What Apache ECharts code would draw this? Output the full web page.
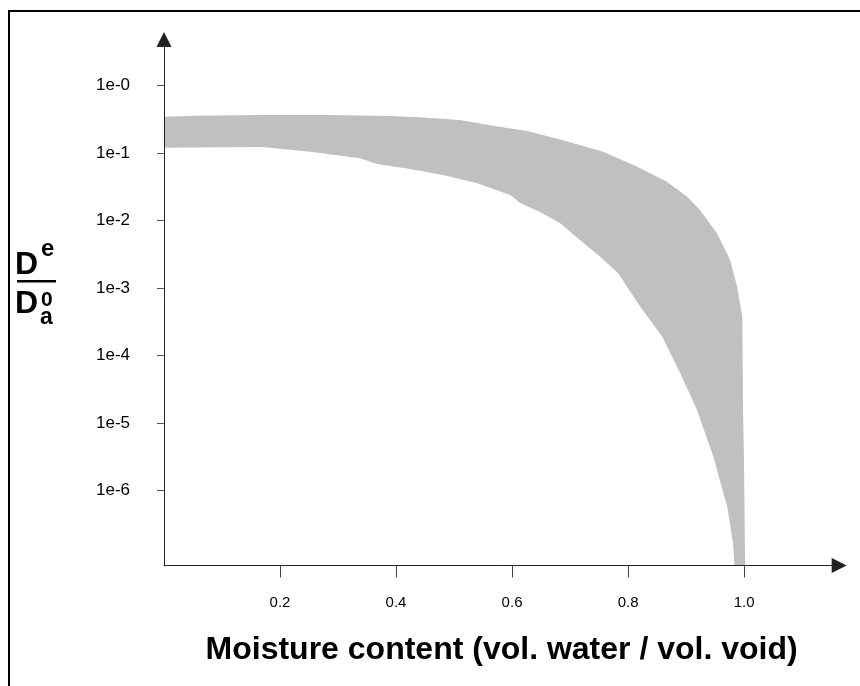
<!DOCTYPE html>
<html>
<head>
<meta charset="utf-8">
<script src="https://cdn.jsdelivr.net/npm/echarts@6/dist/echarts.min.js"></script>
<style>
  html, body { margin: 0; padding: 0; background: #fff; }
  #chart { width: 860px; height: 686px; }
</style>
</head>
<body>
<div id="chart"></div>
<script>
// Upper envelope of the effective diffusivity band: moisture content vs De/Da0
const upperX = [0, 0.05, 0.166, 0.281, 0.395, 0.453, 0.510, 0.567, 0.626, 0.683, 0.757, 0.816, 0.867, 0.902, 0.924, 0.953, 0.976, 0.988, 0.997, 0.998, 1.0, 1.002];
const upperY = [0.345, 0.357, 0.366, 0.366, 0.353, 0.333, 0.308, 0.254, 0.212, 0.158, 0.1045, 0.0627, 0.0376, 0.0225, 0.0143, 0.00653, 0.0026, 0.00104, 3.76e-4, 2.19e-5, 2.25e-6, 5e-8];

// Lower envelope of the band
const lowerX = [0, 0.166, 0.183, 0.252, 0.338, 0.367, 0.424, 0.481, 0.540, 0.597, 0.614, 0.648, 0.683, 0.717, 0.752, 0.783, 0.821, 0.859, 0.890, 0.919, 0.947, 0.971, 0.981, 0.985];
const lowerY = [0.12, 0.1227, 0.12, 0.1045, 0.0834, 0.0687, 0.058, 0.0472, 0.0356, 0.0239, 0.0182, 0.0134, 0.0091, 0.00514, 0.00291, 0.00165, 5.29e-4, 1.9e-4, 5.45e-5, 1.56e-5, 3.17e-6, 5.75e-7, 1.66e-7, 5e-8];

// Axis ticks
const xTickValues = [0.2, 0.4, 0.6, 0.8, 1.0];
const xTickLabels = ['0.2', '0.4', '0.6', '0.8', '1.0'];
const yTickValues = [1, 1e-1, 1e-2, 1e-3, 1e-4, 1e-5, 1e-6];
const yTickLabels = ['1e-0', '1e-1', '1e-2', '1e-3', '1e-4', '1e-5', '1e-6'];

const xTitle = 'Moisture content (vol. water / vol. void)';

const FONT = "'Liberation Sans', Arial, Helvetica, sans-serif";

function labelFor(values, labels, v) {
  for (let i = 0; i < values.length; i++) {
    if (Math.abs(values[i] - v) <= Math.abs(values[i]) * 1e-6) return labels[i];
  }
  return '';
}

const chart = echarts.init(document.getElementById('chart'), null, { renderer: 'canvas' });

chart.setOption({
  animation: false,
  backgroundColor: '#fff',
  grid: { left: 164, right: 20.8, top: 39.5, bottom: 120.5, containLabel: false },
  xAxis: {
    type: 'value',
    min: 0,
    max: 1.164,
    z: 5,
    axisLine: {
      show: true, onZero: false,
      symbol: ['none', 'triangle'], symbolSize: [15, 15],
      lineStyle: { color: '#222', width: 1 }
    },
    axisTick: { show: true, customValues: xTickValues, length: 12, lineStyle: { color: '#444' } },
    axisLabel: {
      customValues: xTickValues,
      formatter: v => labelFor(xTickValues, xTickLabels, v),
      margin: 30, fontSize: 15, color: '#000', fontFamily: FONT
    },
    splitLine: { show: false },
    name: xTitle,
    nameLocation: 'middle',
    nameGap: 69,
    nameTextStyle: { fontSize: 32, fontWeight: 'bold', color: '#000', fontFamily: FONT }
  },
  yAxis: {
    type: 'log',
    logBase: 10,
    min: 7.74e-8,
    max: 4.8,
    z: 5,
    axisLine: {
      show: true, onZero: false,
      symbol: ['none', 'triangle'], symbolSize: [15, 15],
      lineStyle: { color: '#222', width: 1 }
    },
    axisTick: { show: true, customValues: yTickValues, length: 7, lineStyle: { color: '#555' } },
    axisLabel: {
      customValues: yTickValues,
      formatter: v => labelFor(yTickValues, yTickLabels, v),
      margin: 34, fontSize: 17, color: '#000', fontFamily: FONT,
      padding: [0, 0, 4, 0]
    },
    splitLine: { show: false },
    minorTick: { show: false }
  },
  series: [{
    type: 'custom',
    coordinateSystem: 'cartesian2d',
    clip: true,
    z: 2,
    data: [[0.5, 0.1]],
    renderItem: function (params, api) {
      // closed outline: along the upper envelope, back along the lower one
      const pts = [];
      for (let i = 0; i < upperX.length; i++) pts.push(api.coord([upperX[i], upperY[i]]));
      for (let i = lowerX.length - 1; i >= 0; i--) pts.push(api.coord([lowerX[i], lowerY[i]]));
      return {
        type: 'polygon',
        shape: { points: pts },
        style: { fill: '#c0c0c0', stroke: null }
      };
    }
  }],
  graphic: [
    {
      type: 'polyline',
      shape: { points: [[9, 686], [9, 11], [860, 11]] },
      style: { stroke: '#000', lineWidth: 2, fill: null }
    },
    // De / Da0 fraction
    { type: 'text', x: 15, y: 265, style: { text: 'D', font: 'bold 32px ' + FONT, fill: '#000', align: 'left', verticalAlign: 'middle' } },
    { type: 'text', x: 41, y: 249, style: { text: 'e', font: 'bold 24px ' + FONT, fill: '#000', align: 'left', verticalAlign: 'middle' } },
    { type: 'line', shape: { x1: 17, y1: 281.3, x2: 56, y2: 281.3 }, style: { stroke: '#000', lineWidth: 2.5 } },
    { type: 'text', x: 15, y: 304, style: { text: 'D', font: 'bold 32px ' + FONT, fill: '#000', align: 'left', verticalAlign: 'middle' } },
    { type: 'text', x: 41, y: 300, style: { text: '0', font: 'bold 21px ' + FONT, fill: '#000', align: 'left', verticalAlign: 'middle' } },
    { type: 'text', x: 40, y: 318, style: { text: 'a', font: 'bold 23px ' + FONT, fill: '#000', align: 'left', verticalAlign: 'middle' } }
  ]
});
</script>
</body>
</html>
